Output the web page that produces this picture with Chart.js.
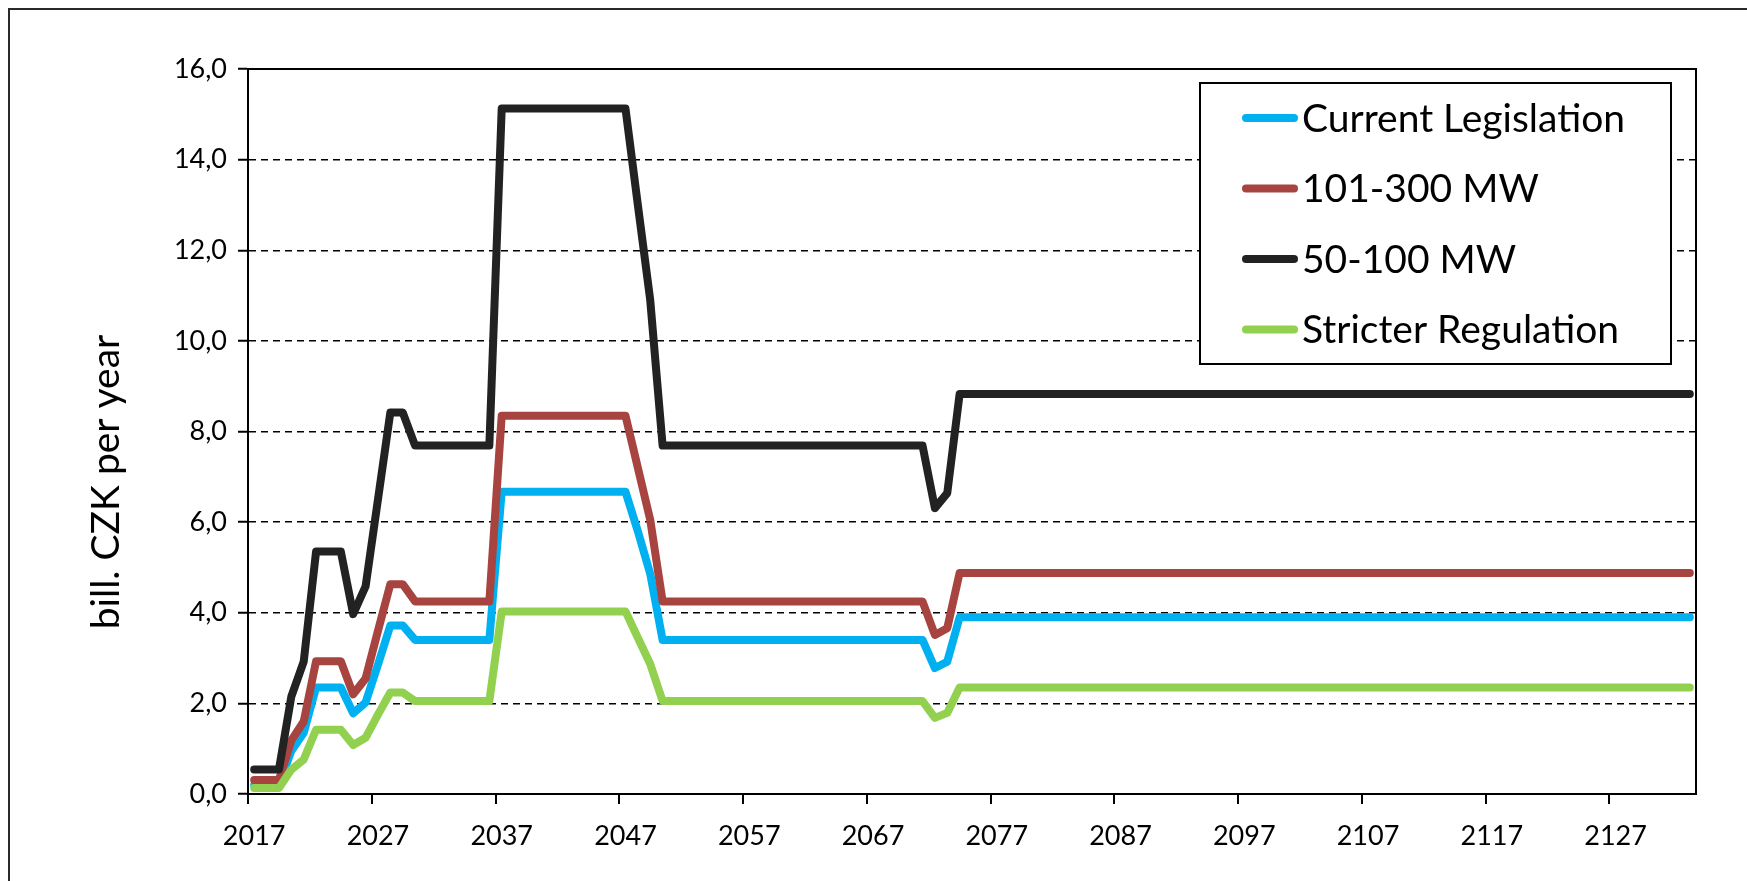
<!DOCTYPE html>
<html>
<head>
<meta charset="utf-8">
<script src="https://cdn.jsdelivr.net/npm/chart.js@4.4.1/dist/chart.umd.min.js"></script>
<style>
  html, body { margin: 0; padding: 0; background: #ffffff; }
  canvas { display: block; }
</style>
</head>
<body>
<canvas id="chart" width="1747" height="881" style="width:1747px;height:881px"></canvas>
<script>
// Years on the category axis (one point per year)
const years = [];
for (let y = 2017; y <= 2133; y++) years.push(String(y));

const yAxisTitle = 'bill. CZK per year';
const seriesNames = ['Current Legislation', '101-300 MW', '50-100 MW', 'Stricter Regulation'];

// bill. CZK per year, 2017 ... 2133
const currentLegislation = [
  0.20, 0.20, 0.20, 0.95, 1.35, 2.35, 2.35, 2.35, 1.78, 2.02, 2.85, 3.72, 3.72,
  3.40, 3.40, 3.40, 3.40, 3.40, 3.40, 3.40,
  6.67, 6.67, 6.67, 6.67, 6.67, 6.67, 6.67, 6.67, 6.67, 6.67, 6.67,
  5.80, 4.86,
  3.40, 3.40, 3.40, 3.40, 3.40, 3.40, 3.40, 3.40, 3.40, 3.40, 3.40,
  3.40, 3.40, 3.40, 3.40, 3.40, 3.40, 3.40, 3.40, 3.40, 3.40, 3.40,
  2.78, 2.92,
  3.90, 3.90, 3.90, 3.90, 3.90, 3.90, 3.90, 3.90, 3.90, 3.90,
  3.90, 3.90, 3.90, 3.90, 3.90, 3.90, 3.90, 3.90, 3.90, 3.90,
  3.90, 3.90, 3.90, 3.90, 3.90, 3.90, 3.90, 3.90, 3.90, 3.90,
  3.90, 3.90, 3.90, 3.90, 3.90, 3.90, 3.90, 3.90, 3.90, 3.90,
  3.90, 3.90, 3.90, 3.90, 3.90, 3.90, 3.90, 3.90, 3.90, 3.90,
  3.90, 3.90, 3.90, 3.90, 3.90, 3.90, 3.90, 3.90, 3.90, 3.90
];

const mw101to300 = [
  0.31, 0.31, 0.31, 1.18, 1.60, 2.93, 2.93, 2.93, 2.20, 2.55, 3.60, 4.63, 4.63,
  4.25, 4.25, 4.25, 4.25, 4.25, 4.25, 4.25,
  8.35, 8.35, 8.35, 8.35, 8.35, 8.35, 8.35, 8.35, 8.35, 8.35, 8.35,
  7.20, 6.05,
  4.25, 4.25, 4.25, 4.25, 4.25, 4.25, 4.25, 4.25, 4.25, 4.25, 4.25,
  4.25, 4.25, 4.25, 4.25, 4.25, 4.25, 4.25, 4.25, 4.25, 4.25, 4.25,
  3.51, 3.66,
  4.88, 4.88, 4.88, 4.88, 4.88, 4.88, 4.88, 4.88, 4.88, 4.88,
  4.88, 4.88, 4.88, 4.88, 4.88, 4.88, 4.88, 4.88, 4.88, 4.88,
  4.88, 4.88, 4.88, 4.88, 4.88, 4.88, 4.88, 4.88, 4.88, 4.88,
  4.88, 4.88, 4.88, 4.88, 4.88, 4.88, 4.88, 4.88, 4.88, 4.88,
  4.88, 4.88, 4.88, 4.88, 4.88, 4.88, 4.88, 4.88, 4.88, 4.88,
  4.88, 4.88, 4.88, 4.88, 4.88, 4.88, 4.88, 4.88, 4.88, 4.88
];

const mw50to100 = [
  0.54, 0.54, 0.54, 2.15, 2.92, 5.35, 5.35, 5.35, 3.97, 4.58, 6.50, 8.42, 8.42,
  7.69, 7.69, 7.69, 7.69, 7.69, 7.69, 7.69,
  15.13, 15.13, 15.13, 15.13, 15.13, 15.13, 15.13, 15.13, 15.13, 15.13, 15.13,
  13.00, 10.90,
  7.69, 7.69, 7.69, 7.69, 7.69, 7.69, 7.69, 7.69, 7.69, 7.69, 7.69,
  7.69, 7.69, 7.69, 7.69, 7.69, 7.69, 7.69, 7.69, 7.69, 7.69, 7.69,
  6.31, 6.64,
  8.83, 8.83, 8.83, 8.83, 8.83, 8.83, 8.83, 8.83, 8.83, 8.83,
  8.83, 8.83, 8.83, 8.83, 8.83, 8.83, 8.83, 8.83, 8.83, 8.83,
  8.83, 8.83, 8.83, 8.83, 8.83, 8.83, 8.83, 8.83, 8.83, 8.83,
  8.83, 8.83, 8.83, 8.83, 8.83, 8.83, 8.83, 8.83, 8.83, 8.83,
  8.83, 8.83, 8.83, 8.83, 8.83, 8.83, 8.83, 8.83, 8.83, 8.83,
  8.83, 8.83, 8.83, 8.83, 8.83, 8.83, 8.83, 8.83, 8.83, 8.83
];

const stricterRegulation = [
  0.13, 0.13, 0.13, 0.54, 0.76, 1.42, 1.42, 1.42, 1.08, 1.24, 1.75, 2.24, 2.24,
  2.05, 2.05, 2.05, 2.05, 2.05, 2.05, 2.05,
  4.03, 4.03, 4.03, 4.03, 4.03, 4.03, 4.03, 4.03, 4.03, 4.03, 4.03,
  3.45, 2.87,
  2.05, 2.05, 2.05, 2.05, 2.05, 2.05, 2.05, 2.05, 2.05, 2.05, 2.05,
  2.05, 2.05, 2.05, 2.05, 2.05, 2.05, 2.05, 2.05, 2.05, 2.05, 2.05,
  1.68, 1.79,
  2.35, 2.35, 2.35, 2.35, 2.35, 2.35, 2.35, 2.35, 2.35, 2.35,
  2.35, 2.35, 2.35, 2.35, 2.35, 2.35, 2.35, 2.35, 2.35, 2.35,
  2.35, 2.35, 2.35, 2.35, 2.35, 2.35, 2.35, 2.35, 2.35, 2.35,
  2.35, 2.35, 2.35, 2.35, 2.35, 2.35, 2.35, 2.35, 2.35, 2.35,
  2.35, 2.35, 2.35, 2.35, 2.35, 2.35, 2.35, 2.35, 2.35, 2.35,
  2.35, 2.35, 2.35, 2.35, 2.35, 2.35, 2.35, 2.35, 2.35, 2.35
];

const yMin = 0, yMax = 16, yStep = 2;
const xLabelEvery = 10;

// Styling
const FONT = 'Lato, "Open Sans", "DejaVu Sans", sans-serif';
const lineColors = ['#00B0F0', '#A84440', '#222222', '#92D050'];
const seriesData = [currentLegislation, mw101to300, mw50to100, stricterRegulation];
// first series is painted first, the last one ends up on top
const drawOrder = [4, 3, 2, 1];

const datasets = seriesNames.map((name, i) => ({
  label: name,
  data: seriesData[i],
  borderColor: lineColors[i],
  backgroundColor: lineColors[i],
  borderWidth: 8,
  borderJoinStyle: 'round',
  borderCapStyle: 'round',
  pointRadius: 0,
  pointHoverRadius: 0,
  tension: 0,
  fill: false,
  order: drawOrder[i]
}));

// Solid frame around the plot area
const plotFrame = {
  id: 'plotFrame',
  beforeDatasetsDraw(chart) {
    const { ctx, chartArea: a } = chart;
    ctx.save();
    ctx.strokeStyle = '#000';
    ctx.lineWidth = 2;
    ctx.strokeRect(a.left, a.top, a.right - a.left, a.bottom - a.top);
    ctx.restore();
  }
};

// Outer chart border (left and top edges are inside the canvas)
const outerBorder = {
  id: 'outerBorder',
  afterDraw(chart) {
    const { ctx } = chart;
    ctx.save();
    ctx.strokeStyle = '#2a2a2a';
    ctx.lineWidth = 2;
    ctx.strokeRect(9, 9, 1760, 900);
    ctx.restore();
  }
};

// Rotated y-axis title
const axisTitle = {
  id: 'axisTitle',
  afterDraw(chart) {
    const { ctx } = chart;
    ctx.save();
    ctx.translate(106, 482);
    ctx.rotate(-Math.PI / 2);
    ctx.font = '39px ' + FONT;
    ctx.fillStyle = '#000';
    ctx.textAlign = 'center';
    ctx.textBaseline = 'middle';
    ctx.fillText(yAxisTitle, 0, 0);
    ctx.restore();
  }
};

// Boxed legend in the upper right of the plot
const boxedLegend = {
  id: 'boxedLegend',
  afterDraw(chart) {
    const { ctx } = chart;
    const box = { x: 1200, y: 83, w: 471, h: 281 };
    ctx.save();
    ctx.fillStyle = '#fff';
    ctx.fillRect(box.x, box.y, box.w, box.h);
    ctx.strokeStyle = '#000';
    ctx.lineWidth = 2;
    ctx.strokeRect(box.x, box.y, box.w, box.h);
    ctx.font = '39px ' + FONT;
    ctx.textBaseline = 'middle';
    ctx.textAlign = 'left';
    chart.data.datasets.forEach((ds, i) => {
      const cy = 118 + i * 70.5;
      ctx.strokeStyle = ds.borderColor;
      ctx.lineWidth = 8;
      ctx.lineCap = 'round';
      ctx.beginPath();
      ctx.moveTo(1246, cy);
      ctx.lineTo(1294, cy);
      ctx.stroke();
      ctx.fillStyle = '#000';
      ctx.fillText(ds.label, 1302, cy + 1);
    });
    ctx.restore();
  }
};

new Chart(document.getElementById('chart'), {
  type: 'line',
  data: { labels: years, datasets },
  plugins: [plotFrame, axisTitle, boxedLegend, outerBorder],
  options: {
    responsive: false,
    devicePixelRatio: 1,
    animation: false,
    events: [],
    layout: { padding: { left: 0, top: 69, right: 51, bottom: 0 } },
    plugins: {
      legend: { display: false },
      tooltip: { enabled: false },
      title: { display: false }
    },
    scales: {
      x: {
        type: 'category',
        offset: true,
        afterFit(scale) { scale.height = 87; },
        grid: {
          offset: true,
          drawOnChartArea: false,
          drawTicks: true,
          tickLength: 10,
          lineWidth: 2,
          color: (ctx) => (ctx.index !== undefined && ctx.index % xLabelEvery === 0) ? '#000' : 'rgba(0,0,0,0)'
        },
        border: { display: true, color: '#000', width: 2 },
        ticks: {
          autoSkip: false,
          maxRotation: 0,
          minRotation: 0,
          padding: 16,
          color: '#000',
          font: { family: FONT, size: 27 },
          callback(value, index) {
            return index % xLabelEvery === 0 ? this.getLabelForValue(value) : '';
          }
        }
      },
      y: {
        min: yMin,
        max: yMax,
        afterFit(scale) { scale.width = 248; },
        grid: {
          color: '#000',
          lineWidth: 1.5,
          tickLength: 10,
          tickWidth: 2,
          tickColor: '#000',
          tickBorderDash: []
        },
        border: { display: true, color: '#000', width: 2, dash: [7, 5] },
        ticks: {
          stepSize: yStep,
          padding: 11,
          color: '#000',
          font: { family: FONT, size: 27 },
          callback: (v) => v.toFixed(1).replace('.', ',')
        }
      }
    }
  }
});
</script>
</body>
</html>
